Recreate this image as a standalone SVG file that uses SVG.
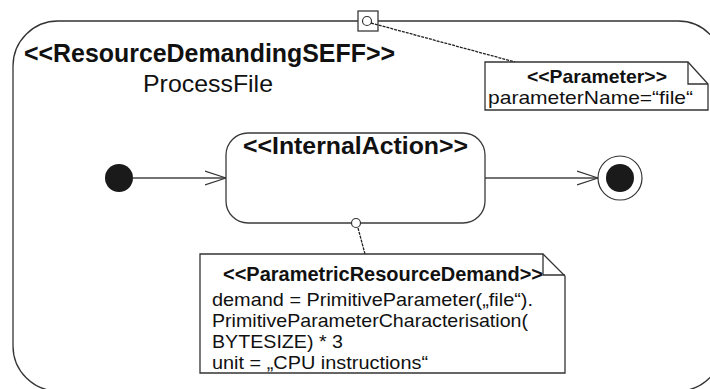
<svg xmlns="http://www.w3.org/2000/svg" width="710" height="389" viewBox="0 0 710 389">
  <style>
    .frame { fill: #ffffff; stroke: #333333; stroke-width: 1.3; }
    .box { fill: #ffffff; stroke: #3a3a3a; stroke-width: 1.3; }
    .note { fill: #ffffff; stroke: #333333; stroke-width: 1.3; }
    .fold { fill: none; stroke: #333333; stroke-width: 1.3; }
    .edge { fill: none; stroke: #444444; stroke-width: 1.3; }
    .dash { fill: none; stroke: #222222; stroke-width: 1.3; stroke-dasharray: 3 1; }
    .dot { fill: #1a1a1a; }
    .ring { fill: #ffffff; stroke: #333333; stroke-width: 1.2; }
    .b { font-family: "Liberation Sans", Arial, sans-serif; font-weight: bold; fill: #111111; }
    .r { font-family: "Liberation Sans", Arial, sans-serif; fill: #111111; }
    .body { font-size: 18.5px; }
  </style>
  <defs>
    <marker id="open" viewBox="0 0 22 16" refX="21" refY="8" markerWidth="22" markerHeight="16" markerUnits="userSpaceOnUse" orient="auto">
      <path d="M0,1 L21,8 L0,15" fill="none" stroke="#333333" stroke-width="1.2"/>
    </marker>
  </defs>

  <!-- SEFF frame -->
  <g id="seff">
    <rect class="frame" x="13" y="21" width="710" height="370" rx="45" ry="45"/>
    <text class="b" x="24" y="62" font-size="25.5" textLength="371" lengthAdjust="spacingAndGlyphs">&lt;&lt;ResourceDemandingSEFF&gt;&gt;</text>
    <text class="r" x="143" y="92" font-size="24" textLength="130" lengthAdjust="spacingAndGlyphs">ProcessFile</text>
  </g>

  <!-- parameter port on the frame border -->
  <g id="port">
    <rect class="box" x="358" y="11" width="20" height="20"/>
    <circle class="ring" cx="367" cy="21" r="4.5"/>
  </g>

  <!-- connectors -->
  <g id="connectors">
    <line class="edge" x1="133" y1="178" x2="226" y2="178" marker-end="url(#open)"/>
    <line class="edge" x1="485" y1="178" x2="598" y2="178" marker-end="url(#open)"/>
    <line class="dash" x1="371" y1="23" x2="515" y2="62"/>
    <line class="dash" x1="358" y1="228" x2="365" y2="254"/>
  </g>

  <!-- initial state -->
  <g id="start">
    <circle class="dot" cx="119" cy="178" r="14"/>
  </g>

  <!-- internal action -->
  <g id="internal-action">
    <rect class="box" x="226" y="133" width="259" height="90" rx="22" ry="22"/>
    <text class="b" x="243" y="154" font-size="24" textLength="225" lengthAdjust="spacingAndGlyphs">&lt;&lt;InternalAction&gt;&gt;</text>
    <circle class="ring" cx="356" cy="223" r="4.5"/>
  </g>

  <!-- final state -->
  <g id="final">
    <circle class="ring" cx="620" cy="178" r="22"/>
    <circle class="dot" cx="620" cy="178" r="14"/>
  </g>

  <!-- parameter note -->
  <g id="parameter-note">
    <path class="note" d="M485,62 L688,62 L708,84 L708,110 L485,110 Z"/>
    <path class="fold" d="M688,62 L688,84 L708,84"/>
    <text class="b" x="527" y="83" font-size="19" textLength="140" lengthAdjust="spacingAndGlyphs">&lt;&lt;Parameter&gt;&gt;</text>
    <text class="r" x="488" y="104" font-size="19" textLength="205" lengthAdjust="spacingAndGlyphs">parameterName=“file“</text>
  </g>

  <!-- resource demand note -->
  <g id="demand-note">
    <path class="note" d="M200,254 L543,254 L565,276 L565,373 L200,373 Z"/>
    <path class="fold" d="M543,254 L543,275 L565,275"/>
    <text class="b" x="223" y="281" font-size="19.5" textLength="320" lengthAdjust="spacingAndGlyphs">&lt;&lt;ParametricResourceDemand&gt;&gt;</text>
    <text class="r body" x="212" y="306" textLength="321" lengthAdjust="spacingAndGlyphs">demand = PrimitiveParameter(„file“).</text>
    <text class="r body" x="212" y="327" textLength="316" lengthAdjust="spacingAndGlyphs">PrimitiveParameterCharacterisation(</text>
    <text class="r body" x="212" y="348" textLength="131" lengthAdjust="spacingAndGlyphs">BYTESIZE) * 3</text>
    <text class="r body" x="212" y="369" textLength="216" lengthAdjust="spacingAndGlyphs">unit = „CPU instructions“</text>
  </g>
</svg>
